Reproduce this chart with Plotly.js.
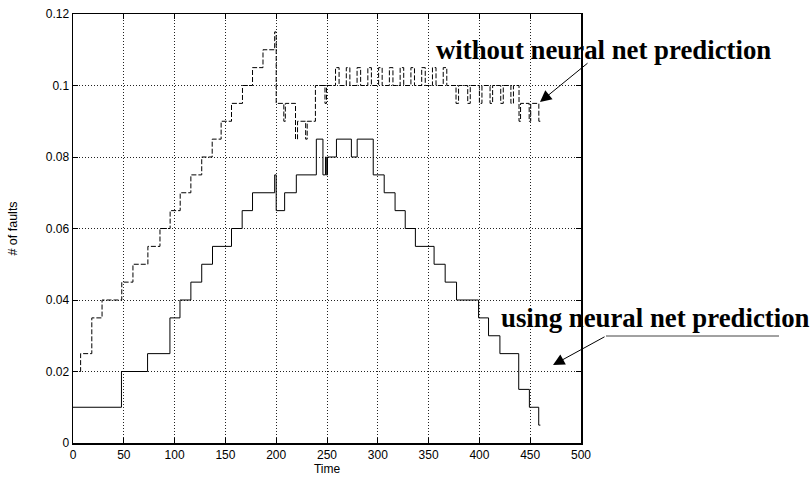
<!DOCTYPE html>
<html>
<head>
<meta charset="utf-8">
<script src="https://cdn.plot.ly/plotly-3.0.1.min.js"></script>
<style>html,body{margin:0;padding:0;background:#fff;}#chart{width:811px;height:478px;}</style>
</head>
<body>
<div id="chart"></div>
<script>
// Series without neural net prediction (dashed), step points
const withoutTime = [0, 7.5, 18.5, 28.6, 48, 59, 73.7, 85.6, 95.6, 105.5, 116, 126.7, 137, 145.8, 156, 166.8, 176.7, 187, 198.5, 200,
  207.5, 209, 219, 221, 229, 230.5, 238.6, 248, 249.5,
  258.4, 261.9, 269, 272.5, 279.6, 283.1, 290.2, 293.7, 300.8, 304.3, 311.4, 314.9, 322, 325.5, 332.6, 336.1, 343.2, 346.7, 353.8, 357.3, 364.4, 367.9,
  377, 379.5, 388.5, 391, 400, 402.5, 410.5, 413, 421, 423.5, 431, 433.5,
  439, 440.5, 449, 450.5, 458.5, 460];
const withoutFaults = [0.02, 0.025, 0.035, 0.04, 0.045, 0.05, 0.055, 0.06, 0.065, 0.07, 0.075, 0.08, 0.085, 0.09, 0.095, 0.1, 0.105, 0.11, 0.115, 0.095,
  0.09, 0.095, 0.085, 0.09, 0.085, 0.09, 0.1, 0.095, 0.1,
  0.105, 0.1, 0.105, 0.1, 0.105, 0.1, 0.105, 0.1, 0.105, 0.1, 0.105, 0.1, 0.105, 0.1, 0.105, 0.1, 0.105, 0.1, 0.105, 0.1, 0.105, 0.1,
  0.095, 0.1, 0.095, 0.1, 0.095, 0.1, 0.095, 0.1, 0.095, 0.1, 0.095, 0.1,
  0.09, 0.095, 0.09, 0.095, 0.09, 0.09];

// Series using neural net prediction (solid), step points
const usingTime = [0, 47.7, 73.4, 95.4, 105.3, 116, 126.7, 137.3, 156, 166.5, 176.7, 198.5, 200, 208.3, 219.8, 239.5, 246, 248.5, 249.3, 250.5,
  259.3, 274, 279.7, 295.5, 306.3, 317, 327, 337, 355.4, 366.3, 377.5, 399.2, 409, 420.2, 438.7, 449.2, 458.4, 460];
const usingFaults = [0.01, 0.02, 0.025, 0.035, 0.04, 0.045, 0.05, 0.055, 0.06, 0.065, 0.07, 0.075, 0.065, 0.07, 0.075, 0.085, 0.075, 0.08, 0.075, 0.08,
  0.085, 0.08, 0.085, 0.075, 0.07, 0.065, 0.06, 0.055, 0.05, 0.045, 0.04, 0.035, 0.03, 0.025, 0.015, 0.01, 0.005, 0.005];

const xTicks = [0, 50, 100, 150, 200, 250, 300, 350, 400, 450, 500];
const yTicks = [0, 0.02, 0.04, 0.06, 0.08, 0.1, 0.12];
const yTickText = ['0', '0.02', '0.04', '0.06', '0.08', '0.1', '0.12'];
const labelWithout = 'without neural net prediction';
const labelUsing = 'using neural net prediction';

const traces = [
  {x: withoutTime, y: withoutFaults, type: 'scatter', mode: 'lines', line: {shape: 'hv', color: '#000', width: 1, dash: '5px,2px'}, hoverinfo: 'skip'},
  {x: usingTime, y: usingFaults, type: 'scatter', mode: 'lines', line: {shape: 'hv', color: '#000', width: 1}, hoverinfo: 'skip'}
];

const L = 73, R = 581, T = 14, B = 443;
const px = v => (v - L) / (R - L);
const py = v => (B - v) / (B - T);

const axisCommon = {
  showline: true, linecolor: '#000', linewidth: 1.5, mirror: 'ticks',
  ticks: 'inside', ticklen: 5, tickcolor: '#000', tickwidth: 1,
  showgrid: true, gridcolor: '#222', griddash: '1px,2px', gridwidth: 1,
  zeroline: false,
  tickfont: {family: 'Liberation Sans, Arial, sans-serif', size: 12, color: '#000'}
};

const layout = {
  width: 811, height: 478,
  margin: {l: L, r: 811 - R, t: T, b: 478 - B},
  paper_bgcolor: '#fff', plot_bgcolor: '#fff',
  showlegend: false,
  xaxis: Object.assign({}, axisCommon, {
    range: [0, 500], tickmode: 'array', tickvals: xTicks,
    title: {text: 'Time', font: {family: 'Liberation Sans, Arial, sans-serif', size: 12, color: '#000'}, standoff: 2}
  }),
  yaxis: Object.assign({}, axisCommon, {
    range: [0, 0.12], tickmode: 'array', tickvals: yTicks, ticktext: yTickText,
    title: {text: '# of faults', font: {family: 'Liberation Sans, Arial, sans-serif', size: 12.5, color: '#000'}, standoff: 25}
  }),
  annotations: [
    {xref: 'paper', yref: 'paper', x: px(434), y: py(50), xanchor: 'left', yanchor: 'middle', showarrow: false,
     text: '<b>' + labelWithout + '</b>', font: {family: 'Liberation Serif, Times New Roman, serif', size: 26.8, color: '#000'}},
    {xref: 'paper', yref: 'paper', x: px(499), y: py(318), xanchor: 'left', yanchor: 'middle', showarrow: false,
     text: '<b>' + labelUsing + '</b>', font: {family: 'Liberation Serif, Times New Roman, serif', size: 26.8, color: '#000'}},
    {xref: 'paper', yref: 'paper', x: px(540), y: py(102), text: '', showarrow: true, arrowhead: 2, arrowsize: 2.3, arrowwidth: 1, arrowcolor: '#000',
     ax: 589 - 540, ay: 62 - 102},
    {xref: 'paper', yref: 'paper', x: px(553), y: py(365), text: '', showarrow: true, arrowhead: 2, arrowsize: 2.3, arrowwidth: 1, arrowcolor: '#000',
     ax: 606 - 553, ay: 336 - 365}
  ],
  shapes: [
    {type: 'line', xref: 'paper', yref: 'paper', x0: px(606), x1: px(779), y0: py(336), y1: py(336), line: {color: '#444', width: 1}}
  ]
};

Plotly.newPlot('chart', traces, layout, {displayModeBar: false, staticPlot: true});
</script>
</body>
</html>
